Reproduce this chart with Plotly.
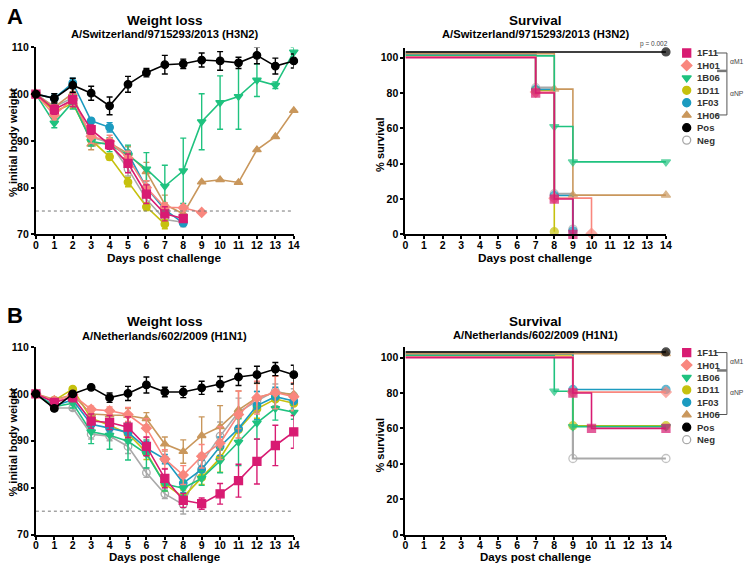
import plotly.graph_objects as go

W, H = 750, 570
def PX(x): return x / W
def PY(y): return 1 - y / H

names = ["1F11", "1H01", "1B06", "1D11", "1F03", "1H06", "Pos", "Neg"]
colors = {"1F11": "#D81B72", "1H01": "#F9877E", "1B06": "#1FC27F", "1D11": "#C6C10E",
          "1F03": "#1C9BC0", "1H06": "#C9975C", "Pos": "#000000", "Neg": "#A9A9A9"}
symbols = {"1F11": "square", "1H01": "diamond", "1B06": "triangle-down", "1D11": "circle",
           "1F03": "circle", "1H06": "triangle-up", "Pos": "circle", "Neg": "circle-open"}
draw_order = ["Neg", "1D11", "1F03", "1H06", "1B06", "1H01", "1F11", "Pos"]
surv_offset = {"1F11": 0, "1H01": 0.5, "1B06": 1.0, "1D11": 1.5, "1F03": 2.0, "1H06": 2.2, "Pos": 3.2, "Neg": 3.0}

days = list(range(15))

# ---------------- Panel A: weight loss (H3N2) ----------------
wA = {
    "Pos":  [100, 99.1, 101.9, 100.2, 97.5, 102.1, 104.6, 106.3, 106.5, 107.3, 107.1, 106.7, 108.3, 106.0, 107.1],
    "1B06": [100, 93.8, 98.3, 89.9, 89.2, 86.9, 84.0, 80.3, 83.6, 94.1, 98.2, 99.5, 103.0, 101.9, 109.0],
    "1H06": [100, 97.2, 100.2, 89.3, 89.6, 87.3, 83.4, 76.4, 74.4, 81.2, 81.7, 81.1, 88.1, 90.9, 96.5],
    "1H01": [100, 95.5, 99.0, 91.0, 89.9, 86.3, 80.0, 75.8, 75.7, 74.7],
    "1F11": [100, 96.7, 98.8, 92.4, 89.2, 85.2, 78.6, 74.4, 73.4],
    "1D11": [100, 96.3, 98.0, 90.2, 86.6, 81.2, 75.9, 72.2],
    "1F03": [100, 99.1, 102.4, 94.3, 92.9, 87.3, 80.0, 75.3, 72.4],
    "Neg":  [100, 97.3, 99.2, 90.8, 89.6, 84.0, 77.5, 73.2, 72.6],
}
eA = {
    "Pos":  [0, 1, 1.5, 1.5, 1.9, 1.7, 0.9, 2, 1, 1.5, 2, 1.2, 1.8, 1.7, 1.5],
    "1B06": [0, 1, 1.5, 1, 1.5, 2.2, 3.5, 4.5, 7, 6, 5.7, 7, 3.5, 0.7, 1],
    "1H06": [0, 1, 1.5, 1.2, 1, 1.5, 2, 2, 1.5, 0, 0, 0, 0, 0, 0],
    "1H01": [0, 1, 1.5, 1.5, 1.3, 1.5, 1.5, 1, 0.5, 0],
    "1F11": [0, 1, 1.5, 1, 1, 2, 2, 1.5, 0.8],
    "1D11": [0, 1, 1, 1, 0.7, 1, 0.8, 1],
    "1F03": [0, 1, 1, 0.5, 1, 1.5, 1.5, 1, 0.5],
    "Neg":  [0, 1, 1, 1, 1, 1.5, 1.5, 1.5, 1],
}

# ---------------- Panel B: weight loss (H1N1) ----------------
wB = {
    "Pos":  [100, 96.9, 100.0, 101.4, 99.2, 100.1, 101.9, 100.4, 100.4, 101.3, 102.1, 103.6, 104.1, 105.3, 104.1],
    "1F11": [100, 98.2, 99.3, 94.2, 93.9, 92.9, 88.8, 82.0, 77.3, 76.6, 78.7, 81.5, 85.6, 89.0, 91.9],
    "1H01": [100, 98.5, 99.8, 96.7, 96.4, 95.6, 92.7, 86.1, 82.7, 86.7, 89.5, 95.6, 99.2, 100.3, 99.4],
    "1B06": [100, 97.3, 98.0, 91.9, 91.2, 89.9, 87.2, 80.8, 79.9, 82.0, 85.7, 89.7, 93.8, 96.9, 96.1],
    "1D11": [100, 98.6, 101.0, 94.8, 93.3, 91.5, 87.5, 80.8, 78.0, 82.2, 86.3, 92.4, 96.8, 98.9, 98.0],
    "1F03": [100, 97.5, 98.7, 93.5, 92.7, 91.8, 88.4, 86.1, 81.0, 83.9, 88.8, 92.6, 97.5, 99.4, 98.5],
    "1H06": [100, 98.8, 99.8, 95.7, 95.5, 95.4, 94.7, 89.3, 87.7, 91.1, 93.0, 96.6, 99.2, 100.3, 99.9],
    "Neg":  [100, 97.0, 97.0, 91.4, 91.0, 88.8, 83.2, 78.7, 76.4, 85.3, 91.0, 96.1, 98.5, 100.6, 99.6],
}
eB = {
    "Pos":  [0, 0.5, 0.5, 0.3, 1, 1.5, 1.7, 1, 1.2, 1.4, 1.6, 1.8, 1.8, 1.4, 2],
    "1F11": [0, 0.5, 1, 1.5, 1.5, 2.2, 2, 2, 1.5, 1.2, 2.2, 3.5, 4.8, 4.3, 3.5],
    "1H01": [0, 0.5, 0.5, 0.7, 0.8, 1.5, 2, 2, 2, 2.5, 3.5, 5, 3.5, 3.5, 3],
    "1B06": [0, 0.5, 1, 2.5, 3, 4, 3, 1.5, 1.5, 1.5, 2.5, 5, 3.5, 2.5, 1.5],
    "1D11": [0, 0.5, 0.5, 1, 1, 1, 1.5, 1.5, 1.5, 1.5, 3, 2.5, 2, 1.5, 1.5],
    "1F03": [0, 0.5, 0.5, 1, 1, 1.5, 1.5, 1, 2, 2, 2, 2.5, 3, 2, 1.5],
    "1H06": [0, 0.5, 0.5, 1, 1, 1.5, 1.3, 1.5, 2.5, 4, 4.5, 4, 3, 3.5, 4.5],
    "Neg":  [0, 0.5, 0.5, 1, 1, 1.5, 1, 1, 2, 2, 3, 3, 2, 1.5, 1.5],
}

# ---------------- Survival (Kaplan-Meier steps) ----------------
sA_days = {"1F11": [0, 7, 8, 9], "1H01": [0, 7, 8, 10], "1B06": [0, 8, 9, 14], "1D11": [0, 7, 8],
           "1F03": [0, 7, 8, 9], "1H06": [0, 8, 9, 14], "Pos": [0, 14], "Neg": [0, 7, 8, 9]}
sA_vals = {"1F11": [100, 80, 20, 0], "1H01": [100, 80, 20, 0], "1B06": [100, 60, 40, 40], "1D11": [100, 80, 0],
           "1F03": [100, 80, 20, 0], "1H06": [100, 80, 20, 20], "Pos": [100, 100], "Neg": [100, 80, 20, 0]}
sB_days = {"1F11": [0, 9, 10, 14], "1H01": [0, 9, 14], "1B06": [0, 8, 9, 14], "1D11": [0, 9, 14],
           "1F03": [0, 9, 14], "1H06": [0, 14], "Pos": [0, 14], "Neg": [0, 9, 14]}
sB_vals = {"1F11": [100, 80, 60, 60], "1H01": [100, 80, 80], "1B06": [100, 80, 60, 60], "1D11": [100, 60, 60],
           "1F03": [100, 80, 80], "1H06": [100, 100], "Pos": [100, 100], "Neg": [100, 40, 40]}

fig = go.Figure()

def add_weight(data, err, xa, ya):
    for n in draw_order:
        y = data[n]
        x = days[:len(y)]
        c = colors[n]
        fig.add_trace(go.Scatter(
            x=x, y=y, mode="lines+markers", xaxis=xa, yaxis=ya, showlegend=False, cliponaxis=False,
            line=dict(color=c, width=1.6),
            marker=dict(symbol=symbols[n], size=7.5 if n != "1F11" else 8, color=c,
                        line=dict(color=c, width=1.3)),
            error_y=dict(type="data", array=err[n], color=c, thickness=1.4, width=3),
        ))

def add_surv(sd, sv, xa, ya):
    for n in draw_order:
        c = colors[n]
        off = surv_offset[n]
        yv = [v + off for v in sv[n]]
        sizes = [0] + [8] * (len(yv) - 1)
        fig.add_trace(go.Scatter(
            x=sd[n], y=yv, mode="lines+markers", line_shape="hv", xaxis=xa, yaxis=ya,
            showlegend=False, cliponaxis=False,
            line=dict(color=c, width=2.2 if n == "Neg" else 1.6),
            marker=dict(symbol=symbols[n], size=sizes, color=c, line=dict(color=c, width=1.3)),
        ))

add_weight(wA, eA, "x", "y")
add_surv(sA_days, sA_vals, "x2", "y2")
add_weight(wB, eB, "x3", "y3")
add_surv(sB_days, sB_vals, "x4", "y4")

# p-value markers next to weight-loss panels
fig.add_trace(go.Scatter(x=[15], y=[wA["Pos"][-1]], xaxis="x", yaxis="y", mode="markers", cliponaxis=False,
                         showlegend=False, marker=dict(symbol="circle", size=8, color="#000")))
fig.add_trace(go.Scatter(x=[15, 15], y=[wB["Pos"][-1], wB["1H06"][-1] + 0.4], xaxis="x3", yaxis="y3",
                         mode="markers", cliponaxis=False, showlegend=False,
                         marker=dict(symbol=["circle", "triangle-up"], size=8, color=["#000", colors["1H06"]])))

# custom legends
for xa, ya in (("x5", "y5"), ("x6", "y6")):
    for i, n in enumerate(names):
        c = colors[n]
        fig.add_trace(go.Scatter(x=[0.5], y=[i], xaxis=xa, yaxis=ya, mode="markers", showlegend=False,
                                 marker=dict(symbol=symbols[n], size=8, color=c, line=dict(color=c, width=1.3))))

FONT = "Liberation Sans"
tick_font = dict(family=FONT, size=10.5, color="#000", weight="bold")

def xax(domain, anchor):
    return dict(domain=domain, anchor=anchor, range=[0, 14], tickmode="linear", tick0=0, dtick=1,
                showline=True, linewidth=2, linecolor="#000", ticks="outside", ticklen=3, tickwidth=1.5,
                tickcolor="#000", showgrid=False, zeroline=False, tickfont=tick_font, ticklabelstandoff=-3)

def yax(domain, anchor, rng, dtick):
    return dict(domain=domain, anchor=anchor, range=rng, tickmode="linear", tick0=rng[0] if rng[0] == 70 else 0,
                dtick=dtick, showline=True, linewidth=2, linecolor="#000", ticks="outside", ticklen=3,
                tickwidth=1.5, tickcolor="#000", showgrid=False, zeroline=False, tickfont=tick_font)

xdomW = [PX(33.3), PX(294.3)]
xdomS = [PX(407.3), PX(671)]
ydomA = [PY(233.3), PY(42.3)]
ydomAS = [PY(233.3), PY(42.8)]
ydomB = [PY(540), PY(348.3)]

hidden = dict(visible=False, showgrid=False, zeroline=False)

fig.update_layout(
    width=W, height=H, margin=dict(l=0, r=0, t=0, b=0),
    paper_bgcolor="white", plot_bgcolor="white", showlegend=False,
    xaxis=xax(xdomW, "y"), yaxis=yax(ydomA, "x", [70, 110], 10),
    xaxis2=xax(xdomS, "y2"), yaxis2=yax(ydomAS, "x2", [0, 105.5], 20),
    xaxis3=xax(xdomW, "y3"), yaxis3=yax(ydomB, "x3", [70, 110], 10),
    xaxis4=xax(xdomS, "y4"), yaxis4=yax(ydomB, "x4", [0, 106], 20),
    xaxis5=dict(domain=[PX(685), PX(699)], anchor="y5", range=[0, 1], **hidden),
    yaxis5=dict(domain=[PY(143.35), PY(41.65)], anchor="x5", range=[7.5, -0.5], **hidden),
    xaxis6=dict(domain=[PX(685), PX(699)], anchor="y6", range=[0, 1], **hidden),
    yaxis6=dict(domain=[PY(449.35), PY(347.65)], anchor="x6", range=[7.5, -0.5], **hidden),
)
fig.update_yaxes(tickvals=[0, 20, 40, 60, 80, 100], selector=dict(anchor="x2"))
fig.update_yaxes(tickvals=[0, 20, 40, 60, 80, 100], selector=dict(anchor="x4"))

shapes = []
# dotted 75% lines
for xr, yr in (("x", "y"), ("x3", "y3")):
    shapes.append(dict(type="line", xref=xr, yref=yr, x0=0, x1=14, y0=75, y1=75,
                       line=dict(color="#777", width=1, dash="dot")))
# legend brackets
for dy in (0, 306):
    br = "#555"
    shapes += [
        dict(type="line", xref="paper", yref="paper", x0=PX(720.7), x1=PX(732.7), y0=PY(48 + dy), y1=PY(48 + dy), line=dict(color=br, width=1)),
        dict(type="line", xref="paper", yref="paper", x0=PX(732.7), x1=PX(732.7), y0=PY(48 + dy), y1=PY(111.3 + dy), line=dict(color=br, width=1)),
        dict(type="line", xref="paper", yref="paper", x0=PX(722.7), x1=PX(732.7), y0=PY(66.3 + dy), y1=PY(66.3 + dy), line=dict(color="#777", width=2.5)),
        dict(type="line", xref="paper", yref="paper", x0=PX(720.7), x1=PX(732.7), y0=PY(111.3 + dy), y1=PY(111.3 + dy), line=dict(color=br, width=1)),
    ]
fig.update_layout(shapes=shapes)

ann = []
def txt(x, y, s, size, bold=False, anchor="center", color="#000", **kw):
    ann.append(dict(x=PX(x), y=PY(y), xref="paper", yref="paper", text=s, showarrow=False,
                    xanchor=anchor, yanchor="middle",
                    font=dict(family=FONT, size=size, color=color, weight="bold" if bold else "normal"), **kw))

# panel letters
txt(12, 11, "A", 22, True)
txt(12, 316, "B", 22, True)
# titles
for (cx, ty, sy, title, sub) in ((163.8, 15, 28.5, "Weight loss", "A/Switzerland/9715293/2013 (H3N2)"),
                                 (539, 15, 28.5, "Survival", "A/Switzerland/9715293/2013 (H3N2)"),
                                 (163.8, 322, 337, "Weight loss", "A/Netherlands/602/2009 (H1N1)"),
                                 (539, 322, 336.5, "Survival", "A/Netherlands/602/2009 (H1N1)")):
    txt(cx, ty, title, 13.5, True)
    txt(cx, sy, sub, 11.2, True)
# axis titles
txt(163.8, 257.5, "Days post challenge", 11.8, True)
txt(539, 257.5, "Days post challenge", 11.8, True)
txt(163.8, 563, "Days post challenge", 11.5, True)
txt(539, 563, "Days post challenge", 11.5, True)
txt(10, 139, "% initial body weight", 11, True, textangle=-90)
txt(10, 445, "% initial body weight", 11, True, textangle=-90)
txt(381.5, 142, "% survival", 11, True, textangle=-90)
txt(381.5, 449, "% survival", 11, True, textangle=-90)
# p-values
pfont = dict(family=FONT, size=6.5, color="#444")
ann.append(dict(x=15.3, y=wA["Pos"][-1], xref="x", yref="y", text="p = < 0.001", showarrow=False, xanchor="left", font=pfont))
ann.append(dict(x=15.3, y=wB["Pos"][-1], xref="x3", yref="y3", text="p = < 0.001", showarrow=False, xanchor="left", font=pfont))
ann.append(dict(x=15.3, y=wB["1H06"][-1] + 0.4, xref="x3", yref="y3", text="p = 0.0104", showarrow=False, xanchor="left", font=pfont))
txt(659, 39, "p = 0.002", 6.5, False, color="#444")
# legend labels
for ya in ("y5", "y6"):
    for i, n in enumerate(names):
        ann.append(dict(x=PX(700), y=i, xref="paper", yref=ya, text=n, showarrow=False, xanchor="left",
                        yanchor="middle", font=dict(family=FONT, size=9.5, color="#333", weight="bold")))
for dy in (0, 306):
    txt(733.5, 57 + dy, "αM1", 6.8, False, anchor="left", color="#444")
    txt(733.5, 89 + dy, "αNP", 6.8, False, anchor="left", color="#444")

fig.update_layout(annotations=ann)
fig.write_html("out.html", config={"displayModeBar": False},
               post_script="document.body.style.margin='0px';document.body.style.overflow='hidden';")
